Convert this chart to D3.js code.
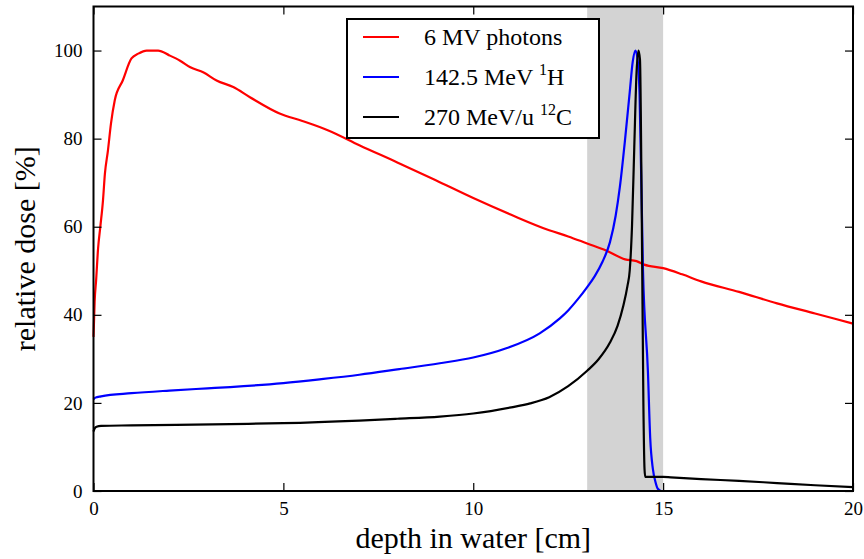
<!DOCTYPE html>
<html>
<head>
<meta charset="utf-8">
<script src="https://cdn.jsdelivr.net/npm/d3@7"></script>
<style>
  body { margin: 0; background: #fff; }
  text { font-family: "Liberation Serif", serif; fill: #000; }
</style>
</head>
<body>
<svg id="chart" width="864" height="559"></svg>
<script>
// depth [cm] / relative dose [%]
const photonDepth = [0, 0.03, 0.07, 0.12, 0.18, 0.25, 0.3, 0.38, 0.46, 0.56, 0.77, 1.0, 1.18, 1.4, 1.7, 2.0, 2.28, 2.55, 2.9, 3.24, 3.68, 4.12, 4.9, 5.5, 6.2, 7, 8, 9, 10, 11, 12, 12.5, 13, 13.5, 14, 14.3, 14.5, 15, 15.5, 16, 17, 18, 19, 20];
const photonDose  = [35, 43, 48, 55, 60, 66, 72, 77.3, 83.4, 88.7, 93.2, 98.2, 99.3, 100, 100, 98.9, 97.7, 96.2, 95, 93.2, 91.7, 89.4, 85.7, 84, 81.8, 78.5, 74.6, 70.6, 66.5, 62.7, 59.2, 57.8, 56.2, 54.6, 52.6, 52.2, 51.4, 50.6, 49.2, 47.6, 45.2, 42.6, 40.3, 38];

const protonDepth = [0, 0.05, 0.2, 1, 2, 3, 3.6, 5, 6, 7, 8, 9.12, 10, 10.87, 11.75, 12.28, 12.5, 12.75, 13.0, 13.2, 13.4, 13.6, 13.75, 13.86, 14.0, 14.12, 14.2, 14.27, 14.32, 14.38, 14.47, 14.6, 14.66, 14.73, 14.8, 14.86, 14.95, 15.1];
const protonDose  = [20.8, 21.2, 21.5, 22.2, 22.8, 23.3, 23.6, 24.5, 25.4, 26.4, 27.6, 29.0, 30.3, 32.4, 35.8, 39.2, 41, 43.5, 46.3, 48.8, 52, 56.5, 62.5, 69, 80, 90.5, 97.5, 100, 98.5, 90, 50, 27, 12, 5, 2, 0.5, 0, 0];

const carbonDepth = [0, 0.03, 0.08, 0.2, 1, 3.6, 5, 7, 8, 9.12, 10, 11, 11.5, 12, 12.5, 13, 13.3, 13.6, 13.8, 13.95, 14.06, 14.12, 14.18, 14.24, 14.3, 14.35, 14.39, 14.44, 14.48, 14.51, 14.53, 14.6, 15, 15.2, 16, 17, 18, 19, 20];
const carbonDose  = [13.5, 14.2, 14.6, 14.8, 14.9, 15.2, 15.4, 16.0, 16.4, 16.9, 17.6, 19.0, 19.9, 21.3, 23.8, 27.3, 29.9, 33.7, 37.5, 42, 46.5, 50, 60, 78, 95, 100, 98, 60, 20, 5, 3.2, 3.2, 3.2, 3.1, 2.7, 2.3, 1.8, 1.3, 0.9];

const seriesNames  = ["6 MV photons", "142.5 MeV |1|H", "270 MeV/u |12|C"];
const seriesColors = ["#ff0000", "#0000ff", "#000000"];

const xTicks = [0, 5, 10, 15, 20];
const yTicks = [0, 20, 40, 60, 80, 100];
const band = [13, 15];

const margin = { left: 93.5, right: 11, top: 6.5, bottom: 68 };
const width = 864, height = 559;
const svg = d3.select("#chart");

const x = d3.scaleLinear().domain([0, 20]).range([margin.left, width - margin.right]);
const y = d3.scaleLinear().domain([0, 110]).range([height - margin.bottom, margin.top]);

// shaded region
svg.append("rect")
  .attr("x", x(band[0]))
  .attr("y", y(110))
  .attr("width", x(band[1]) - x(band[0]))
  .attr("height", y(0) - y(110))
  .attr("fill", "#d3d3d3");

const lineGen = d3.line().x(d => x(d[0])).y(d => y(d[1])).curve(d3.curveMonotoneX);

const series = [
  d3.zip(photonDepth, photonDose),
  d3.zip(protonDepth, protonDose),
  d3.zip(carbonDepth, carbonDose)
];

series.forEach((s, i) => {
  svg.append("path")
    .datum(s)
    .attr("d", lineGen)
    .attr("fill", "none")
    .attr("stroke", seriesColors[i])
    .attr("stroke-width", 2.2)
    .attr("stroke-linejoin", "round");
});

// axes: inward ticks on all four sides
svg.append("g")
  .attr("transform", `translate(0,${y(0)})`)
  .call(d3.axisBottom(x).tickValues(xTicks).tickSize(-8).tickPadding(11))
  .call(g => g.select(".domain").remove());
svg.append("g")
  .attr("transform", `translate(0,${y(110)})`)
  .call(d3.axisTop(x).tickValues(xTicks).tickSize(-8).tickFormat(""))
  .call(g => g.select(".domain").remove());
svg.append("g")
  .attr("transform", `translate(${x(0)},0)`)
  .call(d3.axisLeft(y).tickValues(yTicks).tickSize(-8).tickPadding(11))
  .call(g => g.select(".domain").remove());
svg.append("g")
  .attr("transform", `translate(${x(20)},0)`)
  .call(d3.axisRight(y).tickValues(yTicks).tickSize(-8).tickFormat(""))
  .call(g => g.select(".domain").remove());

svg.selectAll(".tick line").attr("stroke", "#000").attr("stroke-width", 1.2);
svg.selectAll(".tick text")
  .attr("font-size", 19)
  .style("font-family", "'Liberation Serif', serif");

svg.append("rect")
  .attr("x", x(0)).attr("y", y(110))
  .attr("width", x(20) - x(0)).attr("height", y(0) - y(110))
  .attr("fill", "none").attr("stroke", "#000").attr("stroke-width", 2);

// axis titles
svg.append("text")
  .attr("x", (x(0) + x(20)) / 2)
  .attr("y", 548)
  .attr("text-anchor", "middle")
  .attr("font-size", 30)
  .text("depth in water [cm]");

svg.append("text")
  .attr("transform", `translate(35,${(y(0) + y(110)) / 2}) rotate(-90)`)
  .attr("text-anchor", "middle")
  .attr("font-size", 30)
  .text("relative dose [%]");

// legend
const legend = svg.append("g");
legend.append("rect")
  .attr("x", 347).attr("y", 19)
  .attr("width", 252).attr("height", 119)
  .attr("fill", "#fff").attr("stroke", "#000").attr("stroke-width", 2);

seriesNames.forEach((name, i) => {
  const yy = 37 + i * 40;
  legend.append("line")
    .attr("x1", 363).attr("x2", 399)
    .attr("y1", yy).attr("y2", yy)
    .attr("stroke", seriesColors[i]).attr("stroke-width", 2.2);
  const t = legend.append("text")
    .attr("x", 424).attr("y", yy + 8)
    .attr("font-size", 24);
  const parts = name.split("|");
  t.append("tspan").text(parts[0]);
  if (parts.length > 1) {
    t.append("tspan").attr("dy", -10).attr("font-size", 16).text(parts[1]);
    t.append("tspan").attr("dy", 10).text(parts[2]);
  }
});
</script>
</body>
</html>
